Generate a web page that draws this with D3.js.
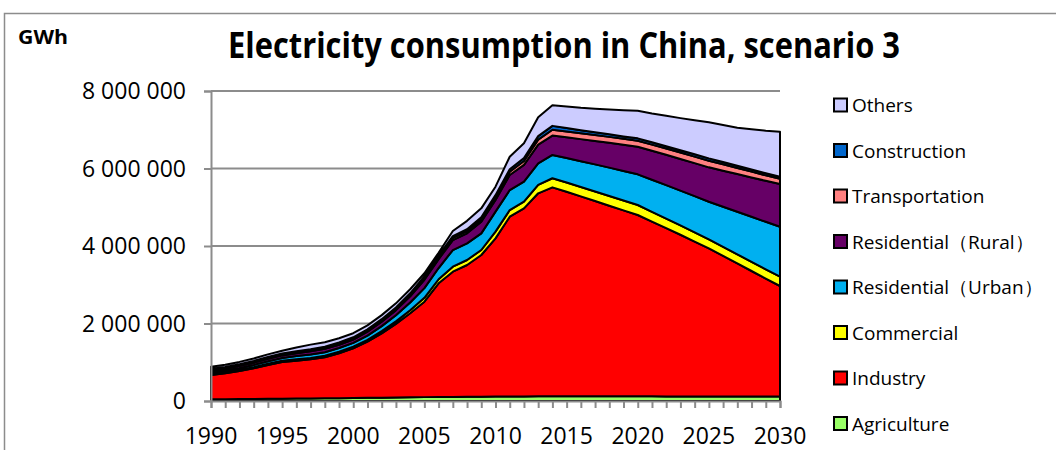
<!DOCTYPE html>
<html>
<head>
<meta charset="utf-8">
<script src="https://cdn.jsdelivr.net/npm/d3@7/dist/d3.min.js"></script>
<style>
  body { margin: 0; background: #fff; }
  svg { display: block; font-family: "Open Sans", "Noto Sans", sans-serif; }
</style>
</head>
<body>
<div id="chart"></div>
<script>
// values in thousand GWh
const years = [1990, 1991, 1992, 1993, 1994, 1995, 1996, 1997, 1998, 1999,
    2000, 2001, 2002, 2003, 2004, 2005, 2006, 2007, 2008, 2009,
    2010, 2011, 2012, 2013, 2014, 2015, 2016, 2017, 2018, 2019,
    2020, 2021, 2022, 2023, 2024, 2025, 2026, 2027, 2028, 2029, 2030];

const agriculture = [45, 47, 49, 52, 55, 58, 62, 66, 70, 74,
    78, 82, 86, 90, 95, 100, 103, 106, 109, 112,
    115, 117, 119, 120, 121, 121, 121, 120, 120, 120,
    120, 120, 119, 119, 119, 118, 118, 118, 117, 117, 117];
const industry = [626, 667, 725, 791, 874, 948, 979, 1009, 1057, 1156,
    1281, 1449, 1660, 1900, 2168, 2463, 2934, 3231, 3401, 3656,
    4083, 4639, 4853, 5240, 5393, 5279, 5159, 5040, 4920, 4800,
    4680, 4510, 4341, 4171, 3996, 3822, 3627, 3432, 3238, 3043, 2851];
const commercial = [25, 26, 28, 30, 32, 34, 36, 38, 40, 42,
    44, 48, 56, 65, 80, 100, 105, 129, 129, 129,
    172, 172, 172, 215, 234, 238, 243, 248, 252, 255,
    258, 253, 248, 242, 237, 232, 234, 235, 237, 238, 240];
const urban = [45, 48, 52, 58, 65, 72, 82, 88, 92, 95,
    98, 110, 130, 160, 200, 250, 290, 430, 430, 430,
    516, 516, 520, 560, 602, 633, 665, 698, 730, 760,
    792, 828, 863, 898, 934, 970, 1034, 1098, 1162, 1226, 1290];
const rural = [50, 51, 54, 58, 62, 65, 75, 84, 86, 86,
    86, 100, 115, 130, 160, 215, 230, 258, 258, 301,
    301, 387, 430, 480, 500, 535, 570, 605, 640, 676,
    712, 747, 782, 817, 852, 888, 931, 973, 1016, 1058, 1101];
const transportation = [20, 20, 21, 22, 23, 24, 25, 26, 27, 28,
    29, 31, 33, 36, 40, 45, 50, 55, 60, 65,
    70, 85, 100, 130, 150, 151, 152, 153, 154, 155,
    156, 159, 162, 166, 169, 172, 164, 156, 149, 141, 134];
const construction = [20, 20, 21, 22, 23, 24, 25, 26, 27, 28,
    29, 30, 32, 34, 36, 40, 42, 45, 48, 50,
    55, 65, 75, 90, 100, 90, 80, 72, 66, 62,
    60, 60, 60, 60, 60, 60, 59, 58, 57, 56, 55];
const others = [55, 55, 59, 65, 70, 73, 97, 118, 118, 111,
    104, 101, 104, 105, 104, 83, 73, 133, 215, 229,
    219, 323, 380, 485, 530, 553, 575, 604, 638, 677,
    714, 743, 788, 827, 878, 930, 953, 983, 1035, 1096, 1162];

const seriesNames = ["Agriculture", "Industry", "Commercial", "Residential（Urban）",
    "Residential（Rural）", "Transportation", "Construction", "Others"];
const seriesValues = [agriculture, industry, commercial, urban, rural, transportation, construction, others];
const seriesColors = ["#99ff66", "#ff0000", "#ffff00", "#00b0f0", "#660066", "#ff8080", "#0066cc", "#ccccff"];

const yTickValues = [0, 2000, 4000, 6000, 8000];
const xLabelYears = [1990, 1995, 2000, 2005, 2010, 2015, 2020, 2025, 2030];

const width = 1056, height = 450;

const svg = d3.select("#chart").append("svg")
    .attr("width", width)
    .attr("height", height);

svg.append("rect").attr("width", width).attr("height", height).attr("fill", "#fff");

// outer frame (top and left only are visible)
svg.append("path")
    .attr("d", `M4.5,${height} V13.5 H${width}`)
    .attr("fill", "none")
    .attr("stroke", "#8c8c8c")
    .attr("stroke-width", 1.5);

const x = d3.scaleLinear().domain([1990, 2030]).range([211, 780]);
const y = d3.scaleLinear().domain([0, 8000]).range([401, 91]);

// gridlines
svg.append("g")
    .selectAll("line")
    .data(yTickValues.filter(d => d > 0))
    .enter().append("line")
    .attr("x1", x(1990)).attr("x2", x(2030))
    .attr("y1", d => y(d)).attr("y2", d => y(d))
    .attr("stroke", "#8c8c8c")
    .attr("stroke-width", 2);

// stacked areas
const table = years.map((yr, i) => {
    const row = { year: yr };
    seriesNames.forEach((name, k) => row[name] = seriesValues[k][i]);
    return row;
});
const stacked = d3.stack().keys(seriesNames)(table);

const area = d3.area()
    .x(d => x(d.data.year))
    .y0(d => y(d[0]))
    .y1(d => y(d[1]));

svg.append("g")
    .selectAll("path")
    .data(stacked)
    .enter().append("path")
    .attr("d", area)
    .attr("fill", (d, i) => seriesColors[i])
    .attr("stroke", "#000")
    .attr("stroke-width", 2)
    .attr("stroke-linejoin", "round");

// y axis
const yAxis = svg.append("g")
    .attr("transform", `translate(${x(1990)},0)`)
    .call(d3.axisLeft(y).tickValues(yTickValues).tickSize(7).tickFormat(""));
yAxis.selectAll("line, path").attr("stroke", "#8c8c8c").attr("stroke-width", 2);

svg.append("g")
    .selectAll("text")
    .data(yTickValues)
    .enter().append("text")
    .attr("x", 186)
    .attr("y", d => y(d) + 8)
    .attr("text-anchor", "end")
    .style("font-size", "23px")
    .attr("fill", "#000")
    .text(d => d3.format(",")(d * 1000).replace(/,/g, " "));

// x axis
const xAxis = svg.append("g")
    .attr("transform", `translate(0,${y(0)})`)
    .call(d3.axisBottom(x).tickValues(years).tickSize(7).tickFormat(""));
xAxis.selectAll("line, path").attr("stroke", "#8c8c8c").attr("stroke-width", 2);

svg.append("g")
    .selectAll("text")
    .data(xLabelYears)
    .enter().append("text")
    .attr("x", d => x(d))
    .attr("y", 444)
    .attr("text-anchor", "middle")
    .style("font-size", "23px")
    .attr("fill", "#000")
    .text(d => d);

// title and unit
svg.append("text")
    .attr("x", 564)
    .attr("y", 58)
    .attr("text-anchor", "middle")
    .attr("textLength", 672)
    .attr("lengthAdjust", "spacingAndGlyphs")
    .style("font-size", "36px")
    .style("font-weight", "bold")
    .text("Electricity consumption in China, scenario 3");

svg.append("text")
    .attr("x", 18)
    .attr("y", 44)
    .attr("textLength", 50)
    .attr("lengthAdjust", "spacingAndGlyphs")
    .style("font-size", "19px")
    .style("font-weight", "bold")
    .text("GWh");

// legend, top to bottom = reverse of stack order
const legend = svg.append("g")
    .selectAll("g")
    .data(seriesNames.map((name, i) => ({ name, color: seriesColors[i] })).reverse())
    .enter().append("g")
    .attr("transform", (d, i) => `translate(834, ${105 + i * 45.5})`);

legend.append("rect")
    .attr("x", 0).attr("y", -6.5)
    .attr("width", 13).attr("height", 13)
    .attr("fill", d => d.color)
    .attr("stroke", "#000")
    .attr("stroke-width", 2);

legend.append("text")
    .attr("x", 18)
    .attr("y", 7)
    .style("font-size", "19px")
    .text(d => d.name);
</script>
</body>
</html>
